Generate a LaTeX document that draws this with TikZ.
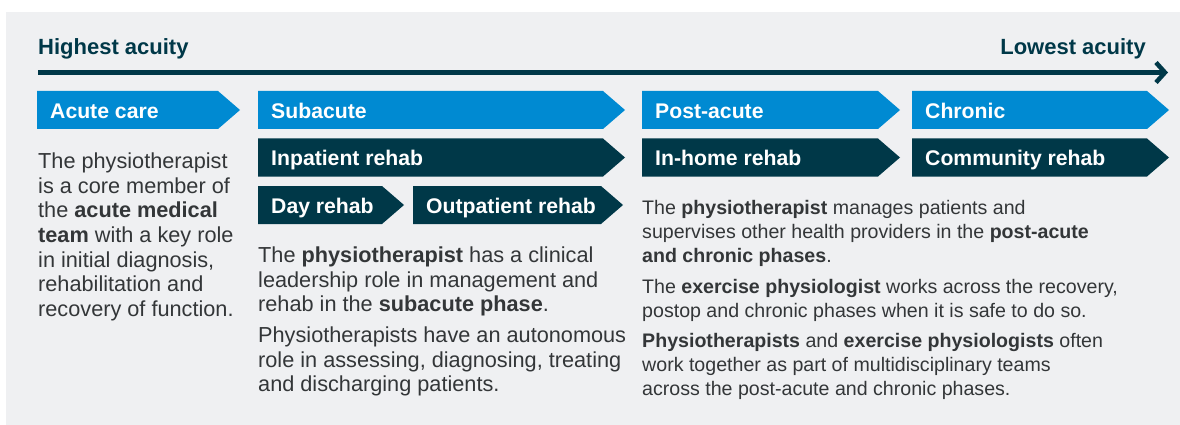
\documentclass[tikz,border=0pt]{standalone}
\usepackage{fontspec}
\setmainfont{Liberation Sans}
\usetikzlibrary{arrows.meta}
\usepackage{xcolor}
\definecolor{phaseblue}{HTML}{008AD2}
\definecolor{phasedark}{HTML}{003848}
\definecolor{panelgray}{HTML}{EFF0F2}
\definecolor{bodytext}{HTML}{333638}

% chevron with a white label: name, colour, left x, tip x, top y, label
\newcommand{\phasebox}[6]{%
  \fill[#2] (#3,#5) -- ({#4-22},#5) -- (#4,{#5+19}) -- ({#4-22},{#5+38})
    -- (#3,{#5+38}) -- cycle;
  \node[phaselabel] (#1) at ({#3+13},{#5+27}) {#6};}

\begin{document}
\begin{tikzpicture}
  [x=1pt,y=-1pt,
   heading/.style={font=\fontsize{22}{25}\selectfont\bfseries,text=phasedark,inner sep=0pt},
   phaselabel/.style={anchor=base west,inner sep=0pt,text=white,
     font=\fontsize{21.2}{25}\selectfont\bfseries},
   bodycol/.style={anchor=north west,inner sep=0pt,align=left,text=bodytext,
     font=\fontsize{21.7}{24.7}\selectfont},
   smallcol/.style={bodycol,font=\fontsize{19.6}{24}\selectfont},
   axis/.style={draw=phasedark,line width=4.5pt,
     -{Straight Barb[length=9pt,width=20pt]}},
  ]
  \useasboundingbox (0,0) rectangle (1180,425);
  \fill[panelgray] (6,12) rectangle (1180,425);

  % acuity scale
  \node[heading,anchor=base west] (high) at (38,55) {Highest acuity};
  \node[heading,anchor=base east] (low) at (1146,55) {Lowest acuity};
  \coordinate (axisstart) at (38,72.5);
  \coordinate (axisend) at (1168,72.5);
  \draw[axis] (axisstart) -- (axisend);

  % phases
  \phasebox{acute}{phaseblue}{37}{240}{91}{Acute care}
  \phasebox{subacute}{phaseblue}{258}{625}{91}{Subacute}
  \phasebox{postacute}{phaseblue}{642}{900}{91}{Post-acute}
  \phasebox{chronic}{phaseblue}{912}{1169}{91}{Chronic}

  % settings
  \phasebox{inpatient}{phasedark}{258}{625}{138.5}{Inpatient rehab}
  \phasebox{inhome}{phasedark}{642}{900}{138.5}{In-home rehab}
  \phasebox{community}{phasedark}{912}{1169}{138.5}{Community rehab}
  \phasebox{day}{phasedark}{258}{404}{186}{Day rehab}
  \phasebox{outpatient}{phasedark}{413}{623}{186}{Outpatient rehab}

  % roles
  \node[bodycol] (acutetext) at (38,152.5)
    {The physiotherapist\\is a core member of\\the \textbf{acute medical}\\
     \textbf{team} with a key role\\in initial diagnosis,\\rehabilitation and\\
     recovery of function.};
  \node[bodycol] (subacutetext) at (258,246.5)
    {The \textbf{physiotherapist} has a clinical\\leadership role in management and\\
     rehab in the \textbf{subacute phase}.\\[6pt]
     Physiotherapists have an autonomous\\role in assessing, diagnosing, treating\\
     and discharging patients.};
  \node[smallcol] (chronictext) at (642,200.5)
    {The \textbf{physiotherapist} manages patients and\\
     supervises other health providers in the \textbf{post-acute}\\
     \textbf{and chronic phases}.\\[6.5pt]
     The \textbf{exercise physiologist} works across the recovery,\\
     postop and chronic phases when it is safe to do so.\\[6.5pt]
     \textbf{Physiotherapists} and \textbf{exercise physiologists} often\\
     work together as part of multidisciplinary teams\\
     across the post-acute and chronic phases.};
\end{tikzpicture}
\end{document}
